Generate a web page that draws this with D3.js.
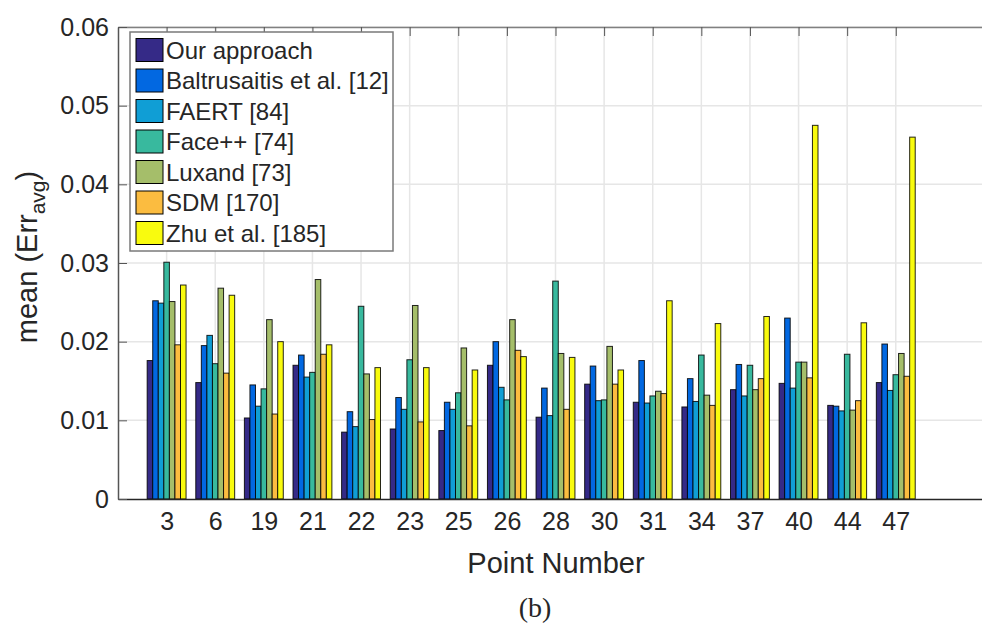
<!DOCTYPE html>
<html>
<head>
<meta charset="utf-8" />
<title>mean Err avg per point</title>
<style>
    body { margin: 0; background: #fff; }
    text { font-family: "Liberation Sans", Arial, sans-serif; fill: #262626; }
</style>
</head>
<body>
<div id="container"></div>
<script src="https://cdn.jsdelivr.net/npm/d3@7"></script>
<script>
    const categories = ['3', '6', '19', '21', '22', '23', '25', '26', '28', '30', '31', '34', '37', '40', '44', '47']
    const seriesNames = ['Our approach', 'Baltrusaitis et al. [12]', 'FAERT [84]', 'Face++ [74]', 'Luxand [73]', 'SDM [170]', 'Zhu et al. [185]']
    const colors = ['#352a87', '#0268e1', '#109ed5', '#38b99e', '#a5be6a', '#fbbc40', '#f9fb0e']

    const ours   = [0.0176, 0.0148, 0.0103, 0.0170, 0.0085, 0.0089, 0.0087, 0.0170, 0.0104, 0.0146, 0.0123, 0.0117, 0.0139, 0.0147, 0.0119, 0.0148]
    const balt   = [0.0252, 0.0195, 0.0145, 0.0183, 0.0111, 0.0129, 0.0123, 0.0200, 0.0141, 0.0169, 0.0176, 0.0153, 0.0171, 0.0230, 0.0118, 0.0197]
    const faert  = [0.0249, 0.0208, 0.0118, 0.0155, 0.0092, 0.0114, 0.0114, 0.0142, 0.0106, 0.0125, 0.0122, 0.0124, 0.0131, 0.0141, 0.0112, 0.0138]
    const facepp = [0.0301, 0.0172, 0.0140, 0.0161, 0.0245, 0.0177, 0.0135, 0.0126, 0.0277, 0.0126, 0.0131, 0.0183, 0.0170, 0.0174, 0.0184, 0.0158]
    const luxand = [0.0251, 0.0268, 0.0228, 0.0279, 0.0159, 0.0246, 0.0192, 0.0228, 0.0185, 0.0194, 0.0137, 0.0132, 0.0139, 0.0174, 0.0113, 0.0185]
    const sdm    = [0.0196, 0.0160, 0.0108, 0.0184, 0.0101, 0.0098, 0.0093, 0.0189, 0.0114, 0.0146, 0.0134, 0.0119, 0.0153, 0.0154, 0.0125, 0.0156]
    const zhu    = [0.0272, 0.0259, 0.0200, 0.0196, 0.0167, 0.0167, 0.0164, 0.0181, 0.0180, 0.0164, 0.0252, 0.0223, 0.0232, 0.0475, 0.0224, 0.0460]
    const series = [ours, balt, faert, facepp, luxand, sdm, zhu]

    const yTicks = [0, 0.01, 0.02, 0.03, 0.04, 0.05, 0.06]

    const margin = { top: 27, left: 118 }
    const width = 875
    const height = 472

    const svg = d3.select('#container').append('svg').attr('width', 982).attr('height', 624)
    const chart = svg.append('g').attr('transform', `translate(${margin.left}, ${margin.top})`)

    // x runs 0..18 like the matlab axes, categories sit at 1..16
    const x = d3.scaleLinear().domain([0, 18]).range([0, width])
    const step = x(1) - x(0)
    const xInner = d3.scaleBand().domain(d3.range(series.length)).range([-0.4 * step, 0.4 * step]).padding(0)
    const y = d3.scaleLinear().domain([0, 0.06]).range([height, 0])

    // grid
    chart.append('g').selectAll('line').data(yTicks.slice(1)).join('line')
        .attr('x1', 0).attr('x2', width).attr('y1', d => y(d)).attr('y2', d => y(d))
        .attr('stroke', '#e6e6e6').attr('stroke-width', 1.5)
    chart.append('g').selectAll('line').data(categories).join('line')
        .attr('x1', (_, i) => x(i + 1)).attr('x2', (_, i) => x(i + 1)).attr('y1', 0).attr('y2', height)
        .attr('stroke', '#e6e6e6').attr('stroke-width', 1.5)

    const tickVals = categories.map((_, i) => i + 1)
    const axisX = d3.axisBottom(x).tickValues(tickVals).tickFormat(d => categories[d - 1]).tickSizeInner(0).tickSizeOuter(0).tickPadding(13)
    const axisTop = d3.axisTop(x).tickValues(tickVals).tickFormat('').tickSizeInner(-9).tickSizeOuter(0)
    const axisY = d3.axisLeft(y).tickValues(yTicks).tickFormat(d => d === 0 ? '0' : d3.format('.2f')(d)).tickSizeInner(-9).tickSizeOuter(0).tickPadding(9)

    const gt = chart.append('g').call(axisTop)

    // bars
    series.forEach((vals, s) => {
        chart.append('g').selectAll('rect').data(vals).join('rect')
            .attr('x', (_, i) => x(i + 1) + xInner(s))
            .attr('width', xInner.bandwidth())
            .attr('y', d => y(d))
            .attr('height', d => height - y(d))
            .attr('fill', colors[s])
            .attr('stroke', '#000').attr('stroke-width', 1).attr('stroke-opacity', 0.85)
    })

    const gx = chart.append('g').attr('transform', `translate(0, ${height})`).call(axisX)
    const gy = chart.append('g').call(axisY)
    gx.select('.domain').attr('stroke', '#262626').attr('stroke-width', 1.5)
    gt.select('.domain').attr('stroke', '#808080').attr('stroke-width', 1.5)
    gy.select('.domain').attr('stroke', '#555').attr('stroke-width', 1.5)
    ;[gt, gy].forEach(g => g.selectAll('.tick line').attr('stroke', '#555'))
    gx.selectAll('.tick text').style('font-size', '25px').attr('fill', '#262626')
    gy.selectAll('.tick text').style('font-size', '25px').attr('fill', '#262626')

    // legend
    const legend = svg.append('g').attr('transform', 'translate(130, 32)')
    legend.append('rect').attr('width', 263).attr('height', 219).attr('fill', '#fff').attr('stroke', '#7a7a7a').attr('stroke-width', 1.5)
    const item = legend.selectAll('g.item').data(seriesNames).join('g').attr('class', 'item')
        .attr('transform', (_, i) => `translate(0, ${18 + i * 30.5})`)
    item.append('rect').attr('x', 6).attr('y', -11.5).attr('width', 27).attr('height', 23)
        .attr('fill', (_, i) => colors[i]).attr('stroke', '#000').attr('stroke-width', 1)
    item.append('text').attr('x', 36).attr('y', 8.5).style('font-size', '24px').attr('fill', '#000').text(d => d)

    // axis labels
    const yl = svg.append('text').attr('transform', 'translate(37, 257) rotate(-90)')
        .attr('text-anchor', 'middle').style('font-size', '29px')
    yl.append('tspan').text('mean (Err')
    yl.append('tspan').attr('dy', 8).style('font-size', '21px').text('avg')
    yl.append('tspan').attr('dy', -8).text(')')

    svg.append('text').attr('x', 556).attr('y', 573).attr('text-anchor', 'middle').style('font-size', '29px').text('Point Number')
    svg.append('text').attr('x', 535).attr('y', 617).attr('text-anchor', 'middle')
        .style('font-family', '"Liberation Serif", "DejaVu Serif", serif').style('font-size', '28px').attr('fill', '#000').text('(b)')
</script>
</body>
</html>
